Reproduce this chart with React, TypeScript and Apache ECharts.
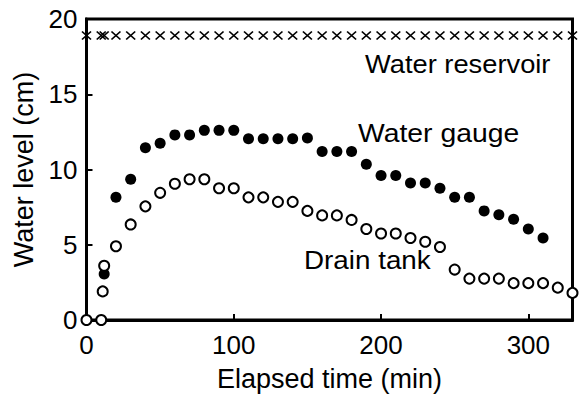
import React, { useEffect, useRef } from "react";
import * as echarts from "echarts";

const drainTimes = [0, 10, 11, 12, 20, 30, 40, 50, 60, 70, 80, 90, 100, 110, 120, 130, 140, 150, 160, 170, 180, 190, 200, 210, 220, 230, 240, 250, 260, 270, 280, 290, 300, 310, 320, 330];
const drainLevels = [0, 0, 1.9, 3.6, 4.9, 6.35, 7.55, 8.45, 9.05, 9.35, 9.35, 8.75, 8.75, 8.15, 8.15, 7.85, 7.85, 7.25, 6.95, 6.95, 6.65, 6.05, 5.75, 5.75, 5.45, 5.2, 4.85, 3.35, 2.75, 2.75, 2.75, 2.45, 2.45, 2.45, 2.15, 1.8];

const gaugeTimes = [12, 20, 30, 40, 50, 60, 70, 80, 90, 100, 110, 120, 130, 140, 150, 160, 170, 180, 190, 200, 210, 220, 230, 240, 250, 260, 270, 280, 290, 300, 310];
const gaugeLevels = [3.05, 8.15, 9.35, 11.45, 11.75, 12.3, 12.3, 12.6, 12.6, 12.6, 12.05, 12.05, 12.05, 12.05, 12.1, 11.2, 11.2, 11.2, 10.35, 9.6, 9.6, 9.1, 9.1, 8.75, 8.15, 8.15, 7.25, 7.0, 6.7, 6.05, 5.45];

const reservoirTimes = [0, 10, 12, 20, 30, 40, 50, 60, 70, 80, 90, 100, 110, 120, 130, 140, 150, 160, 170, 180, 190, 200, 210, 220, 230, 240, 250, 260, 270, 280, 290, 300, 310, 320, 330];
const reservoirLevels = [18.9, 18.9, 18.9, 18.9, 18.9, 18.9, 18.9, 18.9, 18.9, 18.9, 18.9, 18.9, 18.9, 18.9, 18.9, 18.9, 18.9, 18.9, 18.9, 18.9, 18.9, 18.9, 18.9, 18.9, 18.9, 18.9, 18.9, 18.9, 18.9, 18.9, 18.9, 18.9, 18.9, 18.9, 18.9];

const xTicks = [0, 100, 200, 300];
const yTicks = [0, 5, 10, 15, 20];

const FONT = "'Liberation Sans', Arial, Helvetica, sans-serif";

const pairs = (xs: number[], ys: number[]) => xs.map((x, i) => [x, ys[i]]);

export default function App() {
  const ref = useRef<HTMLDivElement>(null);
  useEffect(() => {
    if (!ref.current) return;
    const chart = echarts.init(ref.current, undefined, { renderer: "svg" });
    const axisCommon = {
      axisLine: { show: true, lineStyle: { color: "#000", width: 3 } },
      axisTick: { show: true, inside: true, length: 6, lineStyle: { color: "#000", width: 2 } },
      splitLine: { show: false },
    };
    chart.setOption({
      animation: false,
      backgroundColor: "#fff",
      grid: {
        left: 86.5,
        top: 19,
        width: 486,
        height: 301,
        show: true,
        borderColor: "#000",
        borderWidth: 3,
        backgroundColor: "transparent",
      },
      xAxis: {
        type: "value",
        min: 0,
        max: 330,
        interval: 100,
        ...axisCommon,
        axisLabel: {
          color: "#000",
          fontSize: 26,
          fontFamily: FONT,
          margin: 12,
          formatter: (v: number) => (xTicks.includes(v) ? String(v) : ""),
        },
        name: "Elapsed time (min)",
        nameLocation: "middle",
        nameGap: 45,
        nameTextStyle: { color: "#000", fontSize: 27, fontFamily: FONT },
      },
      yAxis: {
        type: "value",
        min: 0,
        max: 20,
        interval: 5,
        ...axisCommon,
        axisLabel: {
          color: "#000",
          fontSize: 26,
          fontFamily: FONT,
          margin: 9,
          padding: [6, 0, 0, 0],
          formatter: (v: number) => (yTicks.includes(v) ? String(v) : ""),
        },
        name: "Water level (cm)",
        nameLocation: "middle",
        nameGap: 46,
        nameTextStyle: { color: "#000", fontSize: 27, fontFamily: FONT },
      },
      series: [
        {
          name: "Drain tank",
          type: "scatter",
          data: pairs(drainTimes, drainLevels),
          symbol: "circle",
          symbolSize: 10,
          itemStyle: { color: "#fff", borderColor: "#000", borderWidth: 2, opacity: 1 },
          z: 2,
        },
        {
          name: "Water gauge",
          type: "scatter",
          data: pairs(gaugeTimes, gaugeLevels),
          symbol: "circle",
          symbolSize: 11,
          itemStyle: { color: "#000", opacity: 1 },
          z: 1,
        },
        {
          name: "Water reservoir",
          type: "scatter",
          data: pairs(reservoirTimes, reservoirLevels),
          symbol: "path://M0,0L10,10M10,0L0,10",
          symbolSize: [9, 8],
          itemStyle: { color: "none", borderColor: "#000", borderWidth: 1.6, opacity: 1 },
          z: 3,
        },
      ],
      graphic: [
        {
          type: "text",
          x: 365,
          y: 64,
          scaleX: 1.05,
          style: { text: "Water reservoir", fill: "#000", fontSize: 26, fontFamily: FONT, align: "left", verticalAlign: "middle" },
        },
        {
          type: "text",
          x: 358,
          y: 133,
          scaleX: 1.09,
          style: { text: "Water gauge", fill: "#000", fontSize: 26, fontFamily: FONT, align: "left", verticalAlign: "middle" },
        },
        {
          type: "text",
          x: 304,
          y: 260,
          scaleX: 1.07,
          style: { text: "Drain tank", fill: "#000", fontSize: 26, fontFamily: FONT, align: "left", verticalAlign: "middle" },
        },
      ],
    });
    return () => chart.dispose();
  }, []);
  return (
    <div
      ref={ref}
      style={{ position: "fixed", left: 0, top: 0, width: 581, height: 401, background: "#fff" }}
    />
  );
}
